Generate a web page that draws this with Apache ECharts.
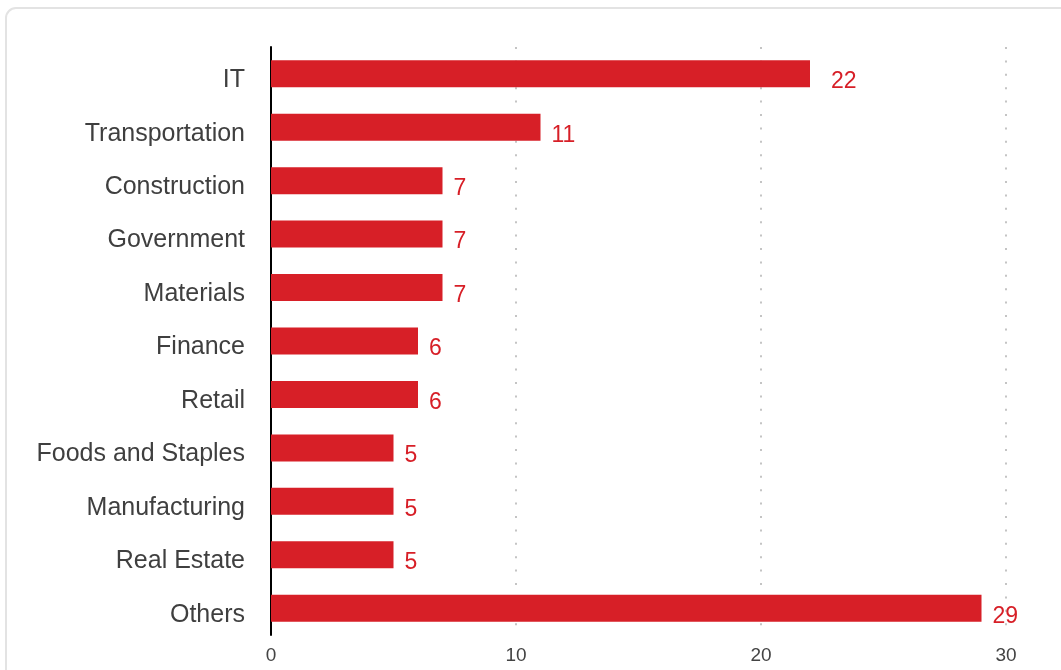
<!DOCTYPE html>
<html>
<head>
<meta charset="utf-8">
<script src="https://cdn.jsdelivr.net/npm/echarts@6/dist/echarts.min.js"></script>
<style>
  html, body { margin: 0; padding: 0; background: #ffffff; overflow: hidden; }
  #chart { width: 1061px; height: 670px; }
</style>
</head>
<body>
<div id="chart"></div>
<script>
// Industries by number of entries
const categories = ['IT', 'Transportation', 'Construction', 'Government', 'Materials',
  'Finance', 'Retail', 'Foods and Staples', 'Manufacturing', 'Real Estate', 'Others'];
const counts = [22, 11, 7, 7, 7, 6, 6, 5, 5, 5, 29];
const xTicks = [0, 10, 20, 30];

const RED = '#d71f27';
const FONT = '"Liberation Sans", Arial, sans-serif';

// the top bar's value sits a little further out than the rest
const barData = counts.map((v, i) =>
  i === 0 ? { value: v, label: { distance: 21 } } : v);

const chart = echarts.init(document.getElementById('chart'), null, { renderer: 'canvas' });

chart.setOption({
  animation: false,
  backgroundColor: '#ffffff',
  graphic: [{
    type: 'rect',
    silent: true,
    shape: { x: 6, y: 8, width: 1120, height: 720, r: 10 },
    style: { fill: 'none', stroke: '#e3e3e3', lineWidth: 2 }
  }],
  grid: { left: 271, right: 55, top: 47, bottom: 35, containLabel: false },
  xAxis: {
    type: 'value',
    min: xTicks[0],
    max: xTicks[xTicks.length - 1],
    interval: xTicks[1] - xTicks[0],
    axisLine: { show: false },
    axisTick: { show: false },
    axisLabel: {
      color: '#444444',
      fontFamily: FONT,
      fontSize: 19,
      margin: 11
    },
    splitLine: {
      show: true,
      lineStyle: { color: '#c4c4c4', width: 2, type: [2, 11.4] }
    }
  },
  yAxis: {
    type: 'category',
    data: categories,
    inverse: true,
    axisLine: { show: true, lineStyle: { color: '#000000', width: 2 } },
    axisTick: { show: false },
    axisLabel: {
      color: '#3f3f3f',
      fontFamily: FONT,
      fontSize: 25,
      margin: 26,
      verticalAlign: 'top',
      lineHeight: 13
    },
    splitLine: { show: false }
  },
  series: [{
    type: 'bar',
    data: barData,
    barWidth: 27,
    itemStyle: { color: RED },
    label: {
      show: true,
      position: 'right',
      distance: 11,
      color: RED,
      fontFamily: FONT,
      fontSize: 23,
      offset: [0, 8]
    }
  }]
});
</script>
</body>
</html>
